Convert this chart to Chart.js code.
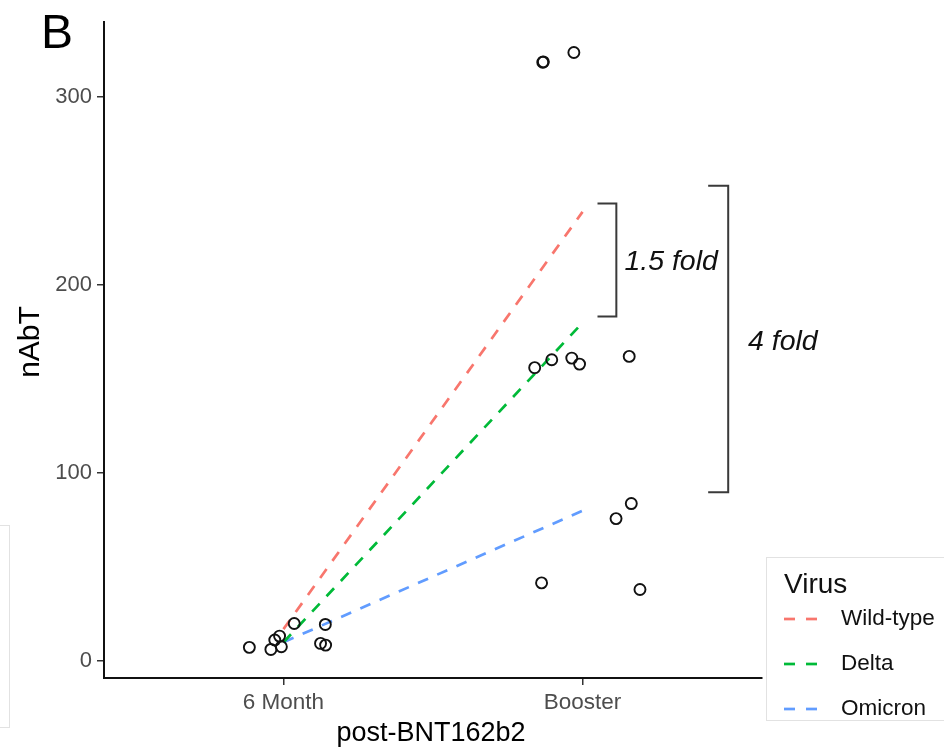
<!DOCTYPE html>
<html>
<head>
<meta charset="utf-8">
<script src="https://cdn.jsdelivr.net/npm/chart.js@4/dist/chart.umd.min.js"></script>
<style>
  html, body { margin: 0; padding: 0; background: #fff; }
  #wrap { width: 944px; height: 749px; position: relative; }
</style>
</head>
<body>
<div id="wrap"><canvas id="c" width="944" height="749"></canvas></div>
<script>
// ---------- data ----------
const categories = ['6 Month', 'Booster'];
const yTickValues = [0, 100, 200, 300];

// individual samples (jitter offset from category centre, value)
const monthJitter = [-0.114, -0.042, -0.029, -0.013, -0.007, 0.036, 0.124, 0.141, 0.140];
const monthValues = [7.3, 6.2, 11.2, 13.3, 7.6, 20.0, 9.4, 8.5, 19.5];
const boosterJitter = [-0.133, -0.131, -0.029, -0.160, -0.103, -0.036, -0.010, 0.156, 0.112, 0.163, -0.137, 0.192];
const boosterValues = [318.6, 318.8, 323.8, 156.1, 160.3, 161.2, 158.0, 162.1, 75.8, 83.8, 41.6, 38.1];

// mean trajectories per virus
const virusNames = ['Wild-type', 'Delta', 'Omicron'];
const wildType = [17, 239];
const delta = [10, 180];
const omicron = [10, 80];

// fold-change brackets: [low, high] values
const foldLabels = ['1.5 fold', '4 fold'];
const foldLow = [183.3, 89.8];
const foldHigh = [243.4, 252.9];

// ---------- style ----------
const virusColors = ['#F8766D', '#00BA38', '#619CFF'];
const FONT = '"Liberation Sans", Arial, Helvetica, sans-serif';

const points = [];
monthValues.forEach((v, i) => points.push({ x: 1 + monthJitter[i], y: v }));
boosterValues.forEach((v, i) => points.push({ x: 2 + boosterJitter[i], y: v }));

const lineSeries = [wildType, delta, omicron];
const lineDatasets = lineSeries.map((s, k) => ({
  type: 'line',
  label: virusNames[k],
  data: s.map((v, i) => ({ x: i + 1, y: v })),
  borderColor: virusColors[k],
  borderWidth: 2.7,
  borderDash: [11, 10],
  pointRadius: 0,
  fill: false,
  tension: 0,
  order: 2
}));

const decor = {
  id: 'decor',
  afterDatasetsDraw(chart) {
    const ctx = chart.ctx;
    const xs = chart.scales.x, ys = chart.scales.y;
    ctx.save();
    // brackets
    const brX = [[2.05, 2.113], [2.42, 2.487]];
    const txtX = [2.14, 2.553];
    ctx.strokeStyle = '#3a3a3a';
    ctx.lineWidth = 2;
    for (let k = 0; k < 2; k++) {
      const x0 = xs.getPixelForValue(brX[k][0]);
      const x1 = xs.getPixelForValue(brX[k][1]);
      const yT = ys.getPixelForValue(foldHigh[k]);
      const yB = ys.getPixelForValue(foldLow[k]);
      ctx.beginPath();
      ctx.moveTo(x0, yT); ctx.lineTo(x1, yT); ctx.lineTo(x1, yB); ctx.lineTo(x0, yB);
      ctx.stroke();
    }
    ctx.fillStyle = '#111';
    ctx.font = 'italic 28.5px ' + FONT;
    ctx.textBaseline = 'middle';
    ctx.textAlign = 'left';
    ctx.fillText(foldLabels[0], xs.getPixelForValue(txtX[0]), ys.getPixelForValue((foldLow[0] + foldHigh[0]) / 2) + 2);
    ctx.fillText(foldLabels[1], xs.getPixelForValue(txtX[1]), ys.getPixelForValue(171) + 2);
    ctx.restore();
  },
  afterDraw(chart) {
    const ctx = chart.ctx;
    ctx.save();
    // panel letter
    ctx.fillStyle = '#000';
    ctx.font = '48px ' + FONT;
    ctx.textAlign = 'left';
    ctx.textBaseline = 'alphabetic';
    ctx.fillText('B', 41, 48);
    // axis titles
    ctx.font = '27px ' + FONT;
    ctx.textAlign = 'center';
    ctx.textBaseline = 'middle';
    ctx.fillText('post-BNT162b2', 431, 734);
    ctx.save();
    ctx.translate(31, 342);
    ctx.rotate(-Math.PI / 2);
    ctx.font = '30px ' + FONT;
    ctx.fillText('nAbT', 0, 0);
    ctx.restore();
    // cropped neighbouring box on the left
    ctx.strokeStyle = '#e2e2e2';
    ctx.lineWidth = 1;
    ctx.strokeRect(-1.5, 525.5, 11, 202);
    // legend box
    ctx.fillStyle = '#fff';
    ctx.fillRect(766, 557, 190, 163);
    ctx.strokeStyle = '#e2e2e2';
    ctx.strokeRect(766.5, 557.5, 190, 163);
    ctx.fillStyle = '#111';
    ctx.textAlign = 'left';
    ctx.font = '28px ' + FONT;
    ctx.fillText('Virus', 784, 585);
    ctx.font = '22.5px ' + FONT;
    const ly = [619, 664, 709];
    for (let k = 0; k < 3; k++) {
      ctx.strokeStyle = virusColors[k];
      ctx.lineWidth = 2.7;
      ctx.setLineDash([11, 11]);
      ctx.beginPath();
      ctx.moveTo(784, ly[k]); ctx.lineTo(818, ly[k]);
      ctx.stroke();
      ctx.setLineDash([]);
      ctx.fillStyle = '#111';
      ctx.fillText(virusNames[k], 841, ly[k]);
    }
    ctx.restore();
  }
};

new Chart(document.getElementById('c'), {
  type: 'scatter',
  data: {
    datasets: [
      ...lineDatasets,
      {
        type: 'scatter',
        label: 'samples',
        data: points,
        pointRadius: 5.5,
        pointBorderWidth: 1.9,
        pointBorderColor: '#111',
        pointBackgroundColor: 'rgba(0,0,0,0)',
        order: 1
      }
    ]
  },
  options: {
    responsive: false,
    animation: false,
    devicePixelRatio: 1,
    layout: { padding: { top: 22, right: 182, left: 0, bottom: 0 } },
    plugins: { legend: { display: false }, tooltip: { enabled: false } },
    scales: {
      x: {
        type: 'linear',
        min: 0.4,
        max: 2.6,
        afterBuildTicks: s => { s.ticks = categories.map((c, i) => ({ value: i + 1 })); },
        afterFit: s => { s.height = 71; },
        ticks: {
          callback: v => categories[Math.round(v) - 1],
          color: '#4d4d4d',
          font: { family: FONT, size: 22.5 },
          padding: 4,
          maxRotation: 0,
          autoSkip: false
        },
        grid: { drawOnChartArea: false, drawTicks: true, tickLength: 7, color: '#333', lineWidth: 1.5 },
        border: { display: true, color: '#111', width: 2 }
      },
      y: {
        type: 'linear',
        min: -9,
        max: 340,
        afterBuildTicks: s => { s.ticks = yTickValues.map(v => ({ value: v })); },
        afterFit: s => { s.width = 104; },
        ticks: {
          color: '#4d4d4d',
          font: { family: FONT, size: 22 },
          padding: 5
        },
        grid: { drawOnChartArea: false, drawTicks: true, tickLength: 7, color: '#333', lineWidth: 1.5 },
        border: { display: true, color: '#111', width: 2 }
      }
    }
  },
  plugins: [decor]
});
</script>
</body>
</html>
